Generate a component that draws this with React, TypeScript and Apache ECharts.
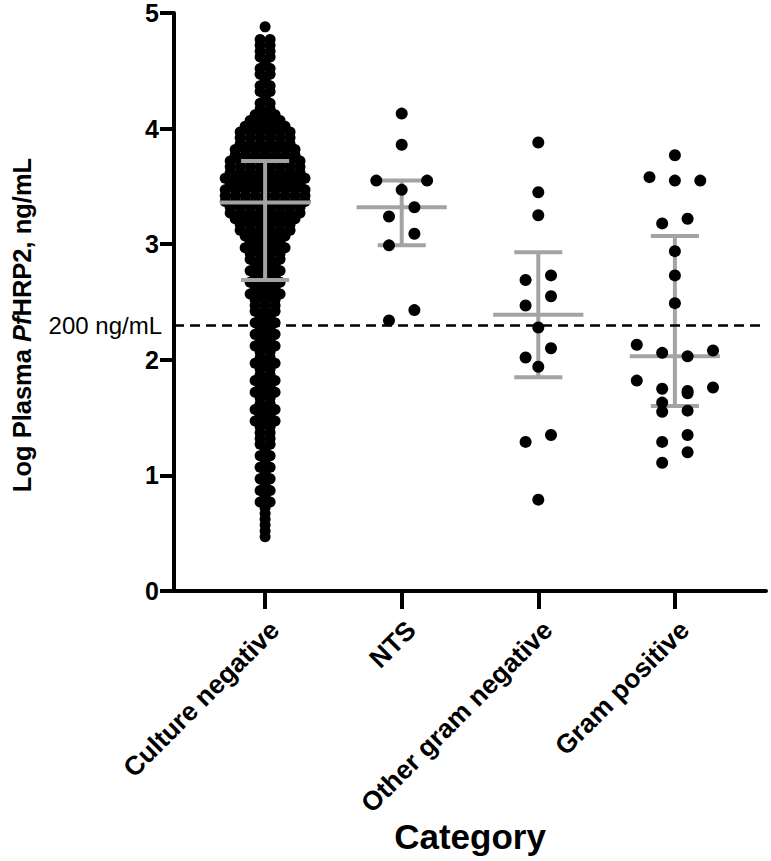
import React, { useEffect, useRef } from "react";
import * as echarts from "echarts";

// ---------------- data ----------------
const categories = ["Culture negative", "NTS", "Other gram negative", "Gram positive"];

// Culture negative: dense beeswarm read as rows (log value) and number of dots per row
const cultureNegRowValues = [
  0.47, 0.52, 0.57, 0.62, 0.67, 0.72, 0.77, 0.82, 0.87, 0.92, 0.97, 1.02, 1.07, 1.12, 1.17,
  1.22, 1.27, 1.32, 1.37, 1.42, 1.47, 1.52, 1.57, 1.62, 1.67, 1.72, 1.77, 1.82, 1.87, 1.92,
  1.97, 2.02, 2.07, 2.12, 2.17, 2.22, 2.27, 2.32, 2.37, 2.42, 2.47, 2.52, 2.57, 2.62, 2.67,
  2.72, 2.77, 2.82, 2.87, 2.92, 2.97, 3.02, 3.07, 3.12, 3.17, 3.22, 3.27, 3.32, 3.37, 3.42,
  3.47, 3.52, 3.57, 3.62, 3.67, 3.72, 3.77, 3.82, 3.87, 3.92, 3.97, 4.02, 4.07, 4.12, 4.17,
  4.22, 4.27, 4.32, 4.37, 4.42, 4.47, 4.52, 4.57, 4.62, 4.67, 4.72, 4.77, 4.88,
];
const cultureNegRowCounts = [
  1, 1, 1, 1, 1, 1, 2, 1, 2, 1, 2, 1, 2, 1, 2,
  1, 2, 2, 2, 2, 3, 2, 3, 2, 2, 3, 2, 3, 2, 2,
  3, 2, 2, 3, 2, 3, 2, 3, 2, 3, 3, 3, 4, 3, 4,
  3, 4, 3, 4, 4, 5, 4, 5, 6, 6, 7, 8, 8, 9, 9,
  9, 8, 9, 8, 8, 8, 7, 7, 6, 6, 6, 5, 4, 3, 2,
  2, 1, 2, 2, 1, 2, 2, 1, 2, 2, 2, 2, 1,
];

const ntsValues = [4.13, 3.86, 3.55, 3.55, 3.47, 3.32, 3.24, 3.09, 2.99, 2.43, 2.34];
const otherGramNegValues = [3.88, 3.45, 3.25, 2.73, 2.69, 2.55, 2.47, 2.28, 2.1, 2.02, 1.94, 1.35, 1.29, 0.79];
const gramPosValues = [
  3.77, 3.58, 3.55, 3.55, 3.22, 3.18, 2.94, 2.73, 2.49, 2.13, 2.08, 2.06, 2.03, 1.82, 1.76,
  1.75, 1.73, 1.71, 1.63, 1.56, 1.55, 1.35, 1.29, 1.2, 1.11,
];

// central line and error bar ends per category
const groupCenter = [3.36, 3.32, 2.39, 2.03];
const groupUpper = [3.72, 3.55, 2.93, 3.07];
const groupLower = [2.69, 2.99, 1.85, 1.6];

const thresholdValue = Math.log10(200);
const thresholdLabel = "200 ng/mL";
const yTickValues = [0, 1, 2, 3, 4, 5];

// ---------------- layout helpers ----------------
const FONT = "'Liberation Sans', Arial, Helvetica, sans-serif";
const DENSE_STEP = 0.073; // x-units between dots in a dense row
const SWARM_HALF = 0.093; // x-units, half spacing for sparse swarm
const ROW_H = 0.1; // log units grouped into one swarm row

function denseRows(center: number, rowValues: number[], rowCounts: number[]) {
  const pts: number[][] = [];
  rowValues.forEach((v, r) => {
    const n = rowCounts[r];
    for (let k = 0; k < n; k++) pts.push([center + (k - (n - 1) / 2) * DENSE_STEP, v]);
  });
  return pts;
}

// row-binned beeswarm: rows filled from the outside in
function rowSwarm(center: number, values: number[]) {
  const sorted = [...values].sort((a, b) => b - a);
  const pts: number[][] = [];
  let i = 0;
  while (i < sorted.length) {
    const start = sorted[i];
    const row: number[] = [];
    while (i < sorted.length && start - sorted[i] <= ROW_H + 1e-9) {
      row.push(sorted[i]);
      i++;
    }
    const n = row.length;
    const slots = Array.from({ length: n }, (_, k) => 2 * k - (n - 1));
    slots.sort((a, b) => {
      const d = Math.abs(b) - Math.abs(a);
      if (d !== 0) return d;
      return n === 2 ? b - a : a - b;
    });
    row.forEach((v, k) => pts.push([center + slots[k] * SWARM_HALF, v]));
  }
  return pts;
}

export default function App() {
  const ref = useRef<HTMLDivElement>(null);

  useEffect(() => {
    if (!ref.current) return;
    const chart = echarts.init(ref.current, undefined, { renderer: "svg" });

    const sparse = [
      ...rowSwarm(1, ntsValues),
      ...rowSwarm(2, otherGramNegValues),
      ...rowSwarm(3, gramPosValues),
    ];

    const errData = categories.map((_, i) => [i, groupCenter[i], groupUpper[i], groupLower[i]]);
    const GREY = "#a3a3a3";

    chart.setOption({
      animation: false,
      backgroundColor: "#ffffff",
      grid: { left: 174, right: 5, top: 13, bottom: 270, containLabel: false },
      xAxis: {
        type: "value",
        min: -0.667,
        max: 3.667,
        splitLine: { show: false },
        axisLine: { show: true, onZero: false, lineStyle: { color: "#000", width: 4 } },
        axisTick: { show: true, customValues: [0, 1, 2, 3], length: 18, lineStyle: { color: "#000", width: 4 } },
        axisLabel: {
          show: true,
          customValues: [0, 1, 2, 3],
          rotate: 45,
          margin: 25,
          align: "right",
          verticalAlign: "top",
          formatter: (v: number) => categories[Math.round(v)] ?? "",
          color: "#000",
          fontWeight: "bold",
          fontSize: 26.5,
          fontFamily: FONT,
        },
      },
      yAxis: {
        type: "value",
        min: 0,
        max: 5,
        interval: 1,
        splitLine: { show: false },
        axisLine: { show: true, onZero: false, lineStyle: { color: "#000", width: 4 } },
        axisTick: { show: true, length: 14, lineStyle: { color: "#000", width: 4 } },
        axisLabel: {
          margin: 15,
          color: "#000",
          fontWeight: "bold",
          fontSize: 25,
          fontFamily: FONT,
          formatter: (v: number) => (yTickValues.includes(v) ? String(v) : ""),
        },
      },
      series: [
        {
          type: "scatter",
          data: [],
          z: 1,
          silent: true,
          markLine: {
            silent: true,
            symbol: "none",
            data: [{ yAxis: thresholdValue }],
            lineStyle: { color: "#000", width: 2.5, type: [10, 6] },
            label: {
              show: true,
              position: "start",
              distance: 12,
              formatter: thresholdLabel,
              color: "#000",
              fontSize: 24,
              fontFamily: FONT,
            },
          },
        },
        {
          type: "scatter",
          z: 2,
          symbolSize: 11,
          itemStyle: { color: "#000", opacity: 1 },
          data: denseRows(0, cultureNegRowValues, cultureNegRowCounts),
        },
        {
          type: "custom",
          z: 3,
          data: errData,
          encode: { x: 0, y: [1, 2, 3] },
          renderItem: (params: any, api: any) => {
            const x = api.value(0);
            const pm = api.coord([x, api.value(1)]);
            const pu = api.coord([x, api.value(2)]);
            const pl = api.coord([x, api.value(3)]);
            const unit = api.size([1, 0])[0];
            const meanHalf = unit * 0.33;
            const capHalf = unit * 0.176;
            const style = { stroke: GREY, lineWidth: 4 };
            return {
              type: "group",
              children: [
                { type: "line", shape: { x1: pu[0], y1: pu[1], x2: pl[0], y2: pl[1] }, style },
                { type: "line", shape: { x1: pu[0] - capHalf, y1: pu[1], x2: pu[0] + capHalf, y2: pu[1] }, style },
                { type: "line", shape: { x1: pl[0] - capHalf, y1: pl[1], x2: pl[0] + capHalf, y2: pl[1] }, style },
                { type: "line", shape: { x1: pm[0] - meanHalf, y1: pm[1], x2: pm[0] + meanHalf, y2: pm[1] }, style },
              ],
            };
          },
        },
        {
          type: "scatter",
          z: 4,
          symbolSize: 12,
          itemStyle: { color: "#000", opacity: 1 },
          data: sparse,
        },
      ],
      graphic: [
        {
          type: "text",
          x: 22,
          y: 325,
          rotation: Math.PI / 2,
          style: {
            text: "{n|Log Plasma }{i|Pf}{n|HRP2, ng/mL}",
            align: "center",
            verticalAlign: "middle",
            rich: {
              n: { fontSize: 25.5, fontWeight: "bold", fontFamily: FONT, fill: "#000" },
              i: { fontSize: 25.5, fontWeight: "bold", fontStyle: "italic", fontFamily: FONT, fill: "#000" },
            },
          },
        },
        {
          type: "text",
          x: 470,
          y: 836,
          style: {
            text: "Category",
            align: "center",
            verticalAlign: "middle",
            fontSize: 35,
            fontWeight: "bold",
            fontFamily: FONT,
            fill: "#000",
          },
        },
      ],
    });

    return () => chart.dispose();
  }, []);

  return (
    <div
      ref={ref}
      style={{ position: "fixed", left: 0, top: 0, width: 771, height: 861, background: "#fff" }}
    />
  );
}
